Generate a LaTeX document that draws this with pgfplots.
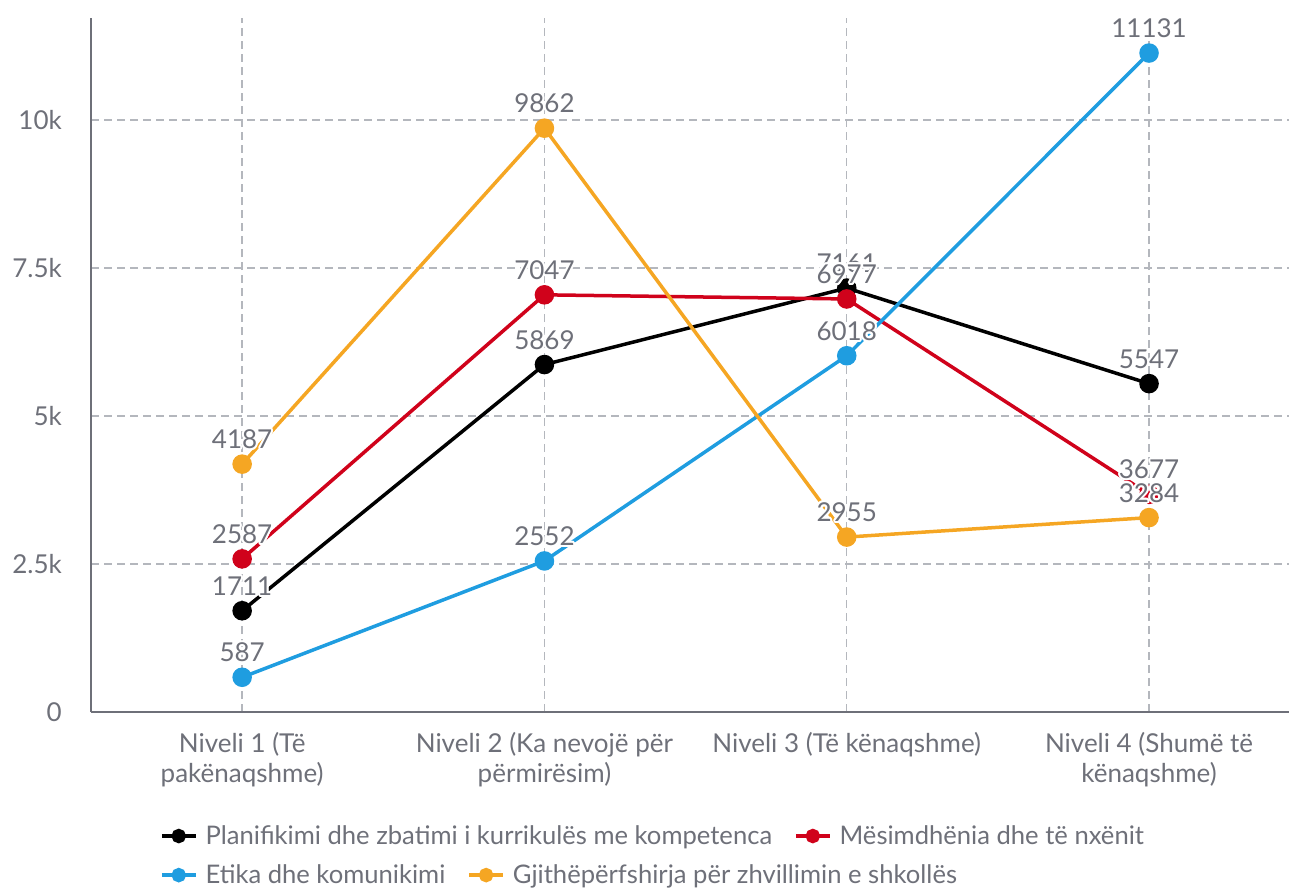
\documentclass[border=0pt]{standalone}
\usepackage{pgfplots}
\usepackage{pgfplotstable}
\pgfplotsset{compat=1.18}
\usepackage{fontspec}
\setmainfont{Lato}
\usepackage{contour}
\contourlength{2bp}
\contournumber{12}
\definecolor{txt}{HTML}{6E7079}
\definecolor{gridc}{HTML}{B4B7BD}
\definecolor{cblack}{HTML}{000000}
\definecolor{cred}{HTML}{D0021B}
\definecolor{cblue}{HTML}{1F9DE0}
\definecolor{corange}{HTML}{F5A623}

\pgfplotstableread{
x y
0 1711
1 5869
2 7161
3 5547
}\tblA
\pgfplotstableread{
x y
0 2587
1 7047
2 6977
3 3677
}\tblB
\pgfplotstableread{
x y
0 587
1 2552
2 6018
3 11131
}\tblC
\pgfplotstableread{
x y
0 4187
1 9862
2 2955
3 3284
}\tblD

\pgfplotsset{
  common/.style={
    scale only axis, width=1198bp, height=694bp,
    xmin=-0.5, xmax=3.463, ymin=0, ymax=11723,
    clip=false,
    scaled y ticks=false,
    font=\fontsize{26bp}{31bp}\selectfont,
    legend image code/.code={\draw[mark repeat=2,mark phase=2,##1,mark size=5.5bp,line width=3.5bp] plot coordinates {(0bp,0bp)(17bp,0bp)(34bp,0bp)};},
    legend style={draw=none, fill=none, inner sep=0pt, outer sep=0pt, text=txt,
      font=\fontsize{25.6bp}{31bp}\selectfont,
      nodes={inner sep=0pt},
      column sep=8bp,
      /tikz/every even column/.append style={column sep=22bp}},
  },
  ser/.style={color=#1, line width=3.5bp, mark=*, mark size=8bp, mark options={solid, fill=#1, draw=#1}},
  lab/.style={draw=none, mark=none, forget plot, nodes near coords={\contour{white}{\pgfmathprintnumber[1000 sep={}]{\pgfplotspointmeta}}},
    every node near coord/.append style={text=txt, anchor=south, inner sep=0pt, yshift=13bp, font=\fontsize{26bp}{31bp}\selectfont}},
}

\begin{document}
\begin{tikzpicture}
\begin{axis}[common, name=ax,
  axis lines*=left,
  axis line style={draw=txt, line width=2bp},
  major tick length=0pt,
  xtick={0,1,2,3},
  xticklabels={{Niveli 1 (Të\\pakënaqshme)},{Niveli 2 (Ka nevojë për\\përmirësim)},{Niveli 3 (Të kënaqshme)},{Niveli 4 (Shumë të\\kënaqshme)}},
  xticklabel style={align=center, text=txt, inner sep=0pt, anchor=north, yshift=-20bp, font=\fontsize{26bp}{30bp}\selectfont},
  ytick={0,2500,5000,7500,10000},
  yticklabels={0,2.5k,5k,7.5k,10k},
  yticklabel style={text=txt, inner sep=0pt, anchor=east, xshift=-29bp, font=\fontsize{26bp}{31bp}\selectfont},
  /pgf/number format/assume math mode=true,
  grid=major,
  major grid style={draw=gridc, line width=1.5bp, dash pattern=on 8bp off 5bp},
  legend columns=2,
  legend style={at={(axis description cs:0.0576,-0.1787)}, anchor=west},
]
\addplot[ser=cblack] table {\tblA};
\addlegendentry{Planifikimi dhe zbatimi i kurrikulës me kompetenca}
\addplot[ser=cred] table {\tblB};
\addlegendentry{Mësimdhënia dhe të nxënit}
\addplot[ser=cblue, forget plot] table {\tblC};
\addplot[ser=corange, forget plot] table {\tblD};
\addplot[lab] table {\tblA};
\addplot[lab] table {\tblB};
\addplot[lab] table {\tblC};
\addplot[lab] table {\tblD};
\end{axis}
\begin{axis}[common, at={(ax.south west)}, anchor=south west, hide axis,
  legend columns=2,
  legend style={at={(axis description cs:0.0576,-0.2350)}, anchor=west},
]
\addlegendimage{ser=cblue}
\addlegendentry{Etika dhe komunikimi}
\addlegendimage{ser=corange}
\addlegendentry{Gjithëpërfshirja për zhvillimin e shkollës}
\end{axis}
\pgfresetboundingbox
\path ([xshift=-91bp,yshift=-177bp]ax.south west) rectangle ([yshift=18bp]ax.north east);
\end{tikzpicture}
\end{document}
